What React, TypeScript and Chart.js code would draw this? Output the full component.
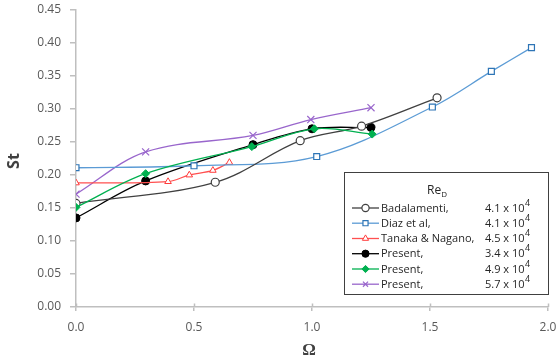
import React, { useEffect, useRef } from "react";
import { Chart, registerables } from "chart.js";
import { drawPoint } from "chart.js/helpers";

Chart.register(...registerables);

// ---- data ----
const badX = [0, 0.59, 0.95, 1.21, 1.53];
const badY = [0.157, 0.189, 0.252, 0.274, 0.317];
const diazX = [0, 0.5, 1.02, 1.51, 1.76, 1.93];
const diazY = [0.211, 0.214, 0.228, 0.303, 0.357, 0.393];
const tanakaX = [0, 0.39, 0.48, 0.58, 0.65];
const tanakaY = [0.188, 0.19, 0.2, 0.207, 0.219];
const p34X = [0, 0.295, 0.75, 1.0, 1.25];
const p34Y = [0.135, 0.191, 0.246, 0.27, 0.272];
const p49X = [0, 0.295, 0.745, 1.01, 1.255];
const p49Y = [0.151, 0.202, 0.243, 0.27, 0.262];
const p57X = [0, 0.295, 0.75, 0.995, 1.25];
const p57Y = [0.171, 0.235, 0.26, 0.284, 0.302];

const seriesNames = ["Badalamenti,", "Diaz et al,", "Tanaka & Nagano,", "Present,", "Present,", "Present,"];
const reMantissa = ["4.1", "4.1", "4.5", "3.4", "4.9", "5.7"];
const reExponent = ["4", "4", "4", "4", "4", "4"];
const xTicks = [0, 0.5, 1.0, 1.5, 2.0];

const toPts = (xs: number[], ys: number[]) => xs.map((x, i) => ({ x, y: ys[i] }));

const TEXT = "#595959";
const AXIS = "#BFBFBF";
const FONT = "'Open Sans', 'Liberation Sans', sans-serif";

const styles = [
  { line: "#404040", border: "#404040", fill: "#ffffff", pointStyle: "circle", radius: 4, bw: 1.2 },
  { line: "#5B9BD5", border: "#2E75B6", fill: "#ffffff", pointStyle: "rect", radius: 4.2, bw: 1.2 },
  { line: "#FF5050", border: "#FF3B3B", fill: "#ffffff", pointStyle: "triangle", radius: 3.8, bw: 1 },
  { line: "#000000", border: "#000000", fill: "#000000", pointStyle: "circle", radius: 4, bw: 1 },
  { line: "#00B050", border: "#00B050", fill: "#00B050", pointStyle: "rectRot", radius: 4, bw: 1 },
  { line: "#9966CC", border: "#9966CC", fill: "#9966CC", pointStyle: "crossRot", radius: 5, bw: 1.2 },
];

const decorPlugin = {
  id: "decor",
  afterDraw(chart: any) {
    const ctx = chart.ctx as CanvasRenderingContext2D;
    const xs = chart.scales.x;
    const area = chart.chartArea;
    ctx.save();
    // crossing x ticks (upper half)
    ctx.strokeStyle = AXIS;
    ctx.lineWidth = 1.5;
    xTicks.forEach((v) => {
      const px = Math.round(xs.getPixelForValue(v)) + 0.5;
      ctx.beginPath();
      ctx.moveTo(px, area.bottom - 3.5);
      ctx.lineTo(px, area.bottom);
      ctx.stroke();
    });

    // axis titles
    ctx.fillStyle = "#404040";
    ctx.font = `bold 16px ${FONT}`;
    ctx.textAlign = "center";
    ctx.textBaseline = "middle";
    ctx.save();
    ctx.translate(14, 161);
    ctx.rotate(-Math.PI / 2);
    ctx.fillText("St", 0, 0);
    ctx.restore();
    ctx.font = "bold 17px 'Liberation Serif', 'DejaVu Serif', serif";
    ctx.fillText("Ω", 309, 351);

    // legend box
    const bx = 344.5, by = 172.5, bw = 204, bh = 122;
    ctx.fillStyle = "#ffffff";
    ctx.fillRect(bx, by, bw, bh);
    ctx.strokeStyle = "#404040";
    ctx.lineWidth = 1;
    ctx.strokeRect(bx, by, bw, bh);

    ctx.fillStyle = "#262626";
    ctx.textBaseline = "alphabetic";
    ctx.textAlign = "left";
    ctx.font = `12px ${FONT}`;
    const reW = ctx.measureText("Re").width;
    ctx.fillText("Re", 427, 194);
    ctx.font = `8px ${FONT}`;
    ctx.fillText("D", 427 + reW, 197);

    const rowY = [208, 223.2, 238.5, 253.7, 269, 284.2];
    rowY.forEach((y, i) => {
      const s = styles[i];
      ctx.strokeStyle = s.line;
      ctx.lineWidth = 1.3;
      ctx.beginPath();
      ctx.moveTo(352, y);
      ctx.lineTo(379, y);
      ctx.stroke();
      ctx.fillStyle = s.fill;
      ctx.strokeStyle = s.border;
      ctx.lineWidth = s.bw;
      drawPoint(ctx, { pointStyle: s.pointStyle, radius: Math.min(s.radius, 3.6), rotation: 0, borderWidth: s.bw } as any, 365.5, y);

      ctx.fillStyle = "#262626";
      ctx.font = `11px ${FONT}`;
      ctx.textBaseline = "middle";
      ctx.fillText(seriesNames[i], 381, y + 0.5);
      const main = `${reMantissa[i]} x 10`;
      ctx.fillText(main, 485, y + 0.5);
      const mw = ctx.measureText(main).width;
      ctx.font = `9px ${FONT}`;
      ctx.fillText(reExponent[i], 485 + mw + 0.5, y - 5);
    });
    ctx.restore();
  },
};

export default function App() {
  const ref = useRef<HTMLCanvasElement | null>(null);
  useEffect(() => {
    document.body.style.margin = "0";
    const canvas = ref.current!;
    const raw = [
      toPts(badX, badY),
      toPts(diazX, diazY),
      toPts(tanakaX, tanakaY),
      toPts(p34X, p34Y),
      toPts(p49X, p49Y),
      toPts(p57X, p57Y),
    ];
    const datasets = raw.map((d, i) => {
      const s = styles[i];
      return {
        label: seriesNames[i] + " " + reMantissa[i],
        data: d,
        borderColor: s.line,
        borderWidth: 1.3,
        backgroundColor: s.fill,
        pointStyle: s.pointStyle as any,
        pointRadius: s.radius,
        pointBorderColor: s.border,
        pointBackgroundColor: s.fill,
        pointBorderWidth: s.bw,
        tension: 0.35,
        showLine: true,
        fill: false,
        order: i === 4 ? 0 : i + 1,
      };
    });
    const chart = new Chart(canvas, {
      type: "scatter",
      data: { datasets },
      options: {
        animation: false,
        responsive: false,
        devicePixelRatio: 1,
        layout: { padding: { top: 10, right: 12, left: 0, bottom: 0 } },
        plugins: { legend: { display: false }, tooltip: { enabled: false } },
        scales: {
          x: {
            type: "linear",
            min: 0,
            max: 2,
            afterFit: (s: any) => {
              s.height = 56;
              s.paddingLeft = 0;
              s.paddingRight = 0;
            },
            afterBuildTicks: (s: any) => {
              s.ticks = xTicks.map((v) => ({ value: v }));
            },
            ticks: {
              padding: 9,
              color: TEXT,
              font: { family: FONT, size: 12 },
              callback: (v: any) => Number(v).toFixed(1),
            },
            grid: { drawOnChartArea: false, drawTicks: true, tickLength: 4, color: AXIS, lineWidth: 1.5 },
            border: { display: true, color: AXIS, width: 1.5 },
          },
          y: {
            type: "linear",
            min: 0,
            max: 0.45,
            afterFit: (s: any) => {
              s.width = 76;
              s.paddingTop = 0;
              s.paddingBottom = 0;
            },
            ticks: {
              stepSize: 0.05,
              padding: 9,
              color: TEXT,
              font: { family: FONT, size: 12 },
              callback: (v: any) => Number(v).toFixed(2),
            },
            grid: { drawOnChartArea: false, drawTicks: true, tickLength: 6, color: AXIS, lineWidth: 1.5 },
            border: { display: true, color: AXIS, width: 1.5 },
          },
        },
      },
      plugins: [decorPlugin],
    });
    return () => chart.destroy();
  }, []);
  return (
    <div style={{ width: 560, height: 363 }}>
      <canvas ref={ref} width={560} height={363} style={{ display: "block" }} />
    </div>
  );
}
